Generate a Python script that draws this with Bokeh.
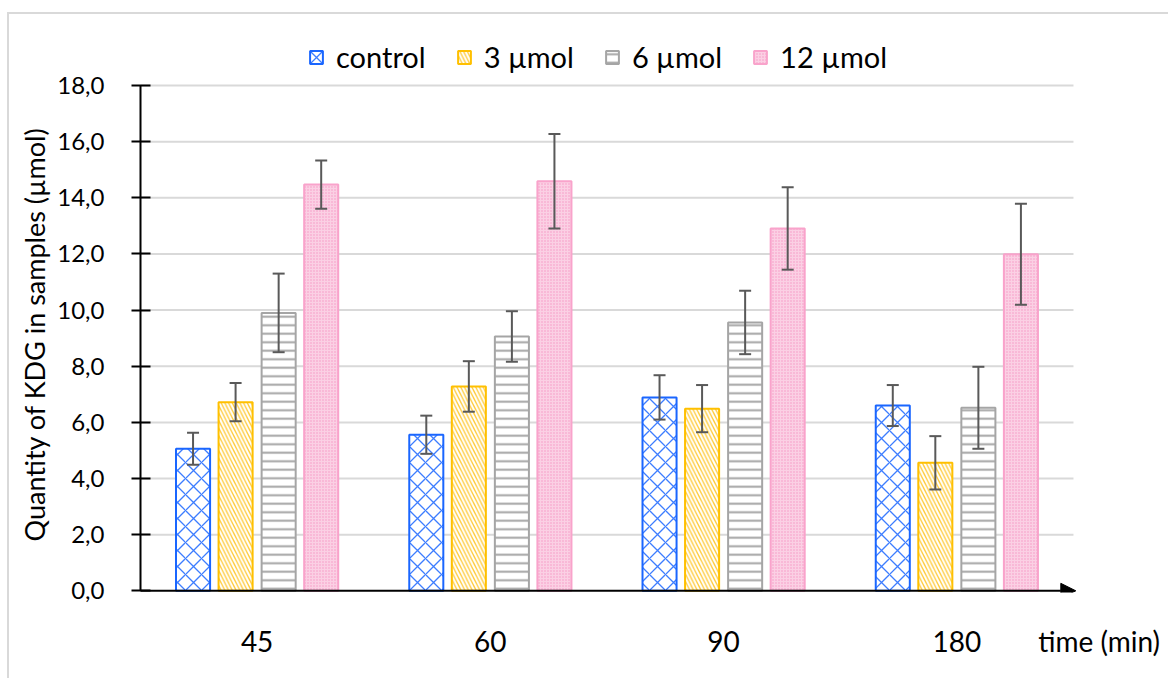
from bokeh.plotting import figure
from bokeh.models import (ColumnDataSource, Whisker, TeeHead, Arrow, NormalHead, Title,
                          Legend, LegendItem, FixedTicker, CustomJSTickFormatter, Range1d)
from bokeh.transform import dodge
from bokeh.embed import file_html
from bokeh.resources import INLINE

categories = ["45", "60", "90", "180"]
series = ["control", "3 µmol", "6 µmol", "12 µmol"]
control = [5.06, 5.56, 6.89, 6.60]
control_err = [0.57, 0.68, 0.79, 0.73]
umol3 = [6.72, 7.28, 6.49, 4.56]
umol3_err = [0.68, 0.90, 0.84, 0.95]
umol6 = [9.90, 9.06, 9.56, 6.52]
umol6_err = [1.40, 0.90, 1.13, 1.46]
umol12 = [14.47, 14.59, 12.91, 11.99]
umol12_err = [0.86, 1.68, 1.47, 1.80]
y_ticks = [0, 2, 4, 6, 8, 10, 12, 14, 16, 18]
x_title = "time (min)"
y_title = "Quantity of KDG in samples (µmol)"

FONT = "Lato"
n = len(categories)
xs = [i + 0.5 for i in range(n)]
title_pos = n + 0.11

p = figure(width=1161, height=666, x_range=Range1d(0, 4.416), y_range=Range1d(-0.06, 19.96),
           output_backend="svg", toolbar_location=None,
           min_border_left=131, min_border_right=0, min_border_top=16, min_border_bottom=88)
p.margin = (12, 0, 0, 7)
p.styles = {"border-left": "2px solid #d9d9d9", "border-top": "2px solid #d9d9d9"}
p.outline_line_color = None
p.background_fill_color = "white"
p.border_fill_color = "white"
p.xgrid.grid_line_color = None
p.ygrid.grid_line_color = None

# horizontal gridlines across the category area only
p.segment(x0=0, x1=n, y0=y_ticks[1:], y1=y_ticks[1:], line_color="#d9d9d9", line_width=2)

styles = [
    dict(line_color="#1a66ff", hatch_pattern="x", hatch_color="#3d7dff", hatch_scale=16, hatch_weight=1.3, fill_color="white"),
    dict(line_color="#ffc000", hatch_pattern="\\", hatch_color="#ffc933", hatch_scale=7.5, hatch_weight=1.3, fill_color="white"),
    dict(line_color="#a5a5a5", hatch_pattern="-", hatch_color="#a5a5a5", hatch_scale=8.5, hatch_weight=2, fill_color="white"),
    dict(line_color="#f9a3cb", hatch_pattern="dot", hatch_color="#f495c2", hatch_scale=3, hatch_weight=1, fill_color="#fbd0e4"),
]
vals = [control, umol3, umol6, umol12]
errs = [control_err, umol3_err, umol6_err, umol12_err]
offsets = [-0.2747, -0.0923, 0.0923, 0.2747]

items = []
for name, v, e, off, st in zip(series, vals, errs, offsets, styles):
    src = ColumnDataSource(dict(x=xs, top=v,
                                upper=[a + b for a, b in zip(v, e)],
                                lower=[a - b for a, b in zip(v, e)]))
    r = p.vbar(x=dodge("x", off), top="top", bottom=0, width=0.146, source=src,
               line_width=2, **st)
    w = Whisker(base=dodge("x", off), upper="upper", lower="lower", source=src,
                line_color="#595959", line_width=2, level="annotation",
                upper_head=TeeHead(size=12, line_color="#595959", line_width=2),
                lower_head=TeeHead(size=12, line_color="#595959", line_width=2))
    p.add_layout(w)
    items.append(LegendItem(label=name, renderers=[r]))

legend = Legend(items=items, orientation="horizontal", location=(168, 518),
                label_text_font=FONT, label_text_font_size="29px", label_text_color="#000000",
                glyph_width=16, glyph_height=16, label_standoff=12, spacing=30,
                padding=0, margin=0, border_line_color=None, background_fill_alpha=0)
p.add_layout(legend, "center")

p.yaxis.ticker = FixedTicker(ticks=y_ticks)
p.yaxis.bounds = (0, 18)
p.yaxis.formatter = CustomJSTickFormatter(code="return tick.toFixed(1).replace('.', ',');")
p.yaxis.axis_line_color = "black"
p.yaxis.axis_line_width = 2
p.yaxis.major_tick_line_color = "black"
p.yaxis.major_tick_line_width = 2
p.yaxis.major_tick_out = 9
p.yaxis.major_tick_in = 10
p.yaxis.minor_tick_line_color = None
p.yaxis.major_label_text_font = FONT
p.yaxis.major_label_text_font_size = "24px"
p.yaxis.major_label_text_color = "#000000"
p.yaxis.major_label_standoff = 27

# y-axis title, anchored to the bottom of the frame so it centres on the 0-18 axis
p.add_layout(Title(text=y_title, align="left", offset=51, standoff=8,
                   text_font=FONT, text_font_size="27px", text_font_style="normal",
                   text_color="#000000"), "left")

tick_pos = xs + [title_pos]
tick_labels = categories + [x_title]
p.xaxis.ticker = FixedTicker(ticks=tick_pos)
p.xaxis.formatter = CustomJSTickFormatter(
    args=dict(pos=tick_pos, labs=tick_labels),
    code="let k = 0; for (let j = 0; j < pos.length; j++) { if (Math.abs(pos[j] - tick) < 1e-6) { k = j; } } return labs[k];")
p.xaxis.axis_line_color = None
p.xaxis.major_tick_line_color = None
p.xaxis.minor_tick_line_color = None
p.xaxis.major_label_text_font = FONT
p.xaxis.major_label_text_font_size = "28px"
p.xaxis.major_label_text_color = "#000000"
p.xaxis.major_label_standoff = 25

p.add_layout(Arrow(x_start=-0.015, y_start=0, x_end=n + 0.01, y_end=0, line_color="black", line_width=2,
                   end=NormalHead(size=15, fill_color="black", line_color="black")))

open("out.html", "w").write(file_html(p, INLINE))
